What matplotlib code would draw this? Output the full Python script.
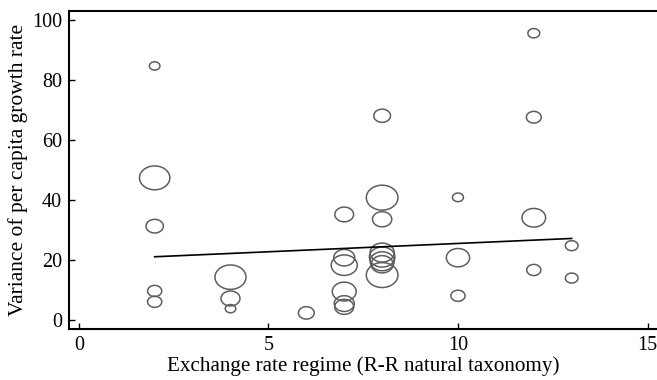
import matplotlib
matplotlib.use("Agg")
import matplotlib.pyplot as plt
import numpy as np
from matplotlib.path import Path

# Data
regime = [2, 2, 2, 2, 2,
          4, 4, 4,
          6,
          7, 7, 7, 7, 7, 7,
          8, 8, 8, 8, 8, 8, 8, 8,
          10, 10, 10,
          12, 12, 12, 12,
          13, 13]
variance = [84.7, 47.4, 31.3, 9.7, 6.1,
            14.3, 7.2, 3.8,
            2.4,
            35.2, 20.8, 18.3, 9.5, 5.5, 4.4,
            68.1, 40.8, 33.6, 22.5, 21.0, 19.6, 18.6, 15.0,
            40.9, 20.8, 8.1,
            95.6, 67.6, 34.1, 16.7,
            24.8, 14.0]
weight = [1.1, 9.2, 3.0, 2.0, 2.0,
          9.6, 3.6, 1.1,
          2.5,
          3.5, 4.4, 6.8, 5.7, 4.0, 3.6,
          2.8, 10.0, 3.7, 5.8, 6.5, 5.8, 4.8, 10.0,
          1.2, 5.4, 2.0,
          1.4, 2.2, 5.6, 2.0,
          1.6, 1.6]
fit_x = [2, 13]
fit_y = [21.1, 27.2]

plt.rcParams['font.family'] = ['Liberation Serif', 'DejaVu Serif']

fig = plt.figure(figsize=(6.57, 3.80), dpi=100)
ax = fig.add_axes([0.105, 0.134, 0.895, 0.837])

# elliptical marker (reference bubbles are slightly stretched horizontally)
t = np.linspace(0, 2 * np.pi, 100)
ellipse = Path(np.column_stack([1.27 * np.cos(t), np.sin(t)]), closed=True)

sizes = np.array(weight) * 51.84
ax.scatter(regime, variance, s=sizes, marker=ellipse, facecolors='none',
           edgecolors='#5e5e5e', linewidths=1.1, zorder=2)
ax.plot(fit_x, fit_y, color='black', lw=1.2, zorder=3)

ax.set_xlim(-0.26, 15.25)
ax.set_ylim(-3, 103)
ax.set_xticks([0, 5, 10, 15])
ax.set_yticks([0, 20, 40, 60, 80, 100])
ax.tick_params(direction='in', length=4, width=1, labelsize=14.5, pad=5)
for side in ['top', 'left', 'bottom']:
    ax.spines[side].set_linewidth(1.5)
ax.spines['right'].set_visible(False)

ax.set_xlabel('Exchange rate regime (R-R natural taxonomy)', fontsize=15.2, labelpad=1)
ax.set_ylabel('Variance of per capita growth rate', fontsize=15.5, labelpad=3)

fig.savefig('out.png', dpi=100)
